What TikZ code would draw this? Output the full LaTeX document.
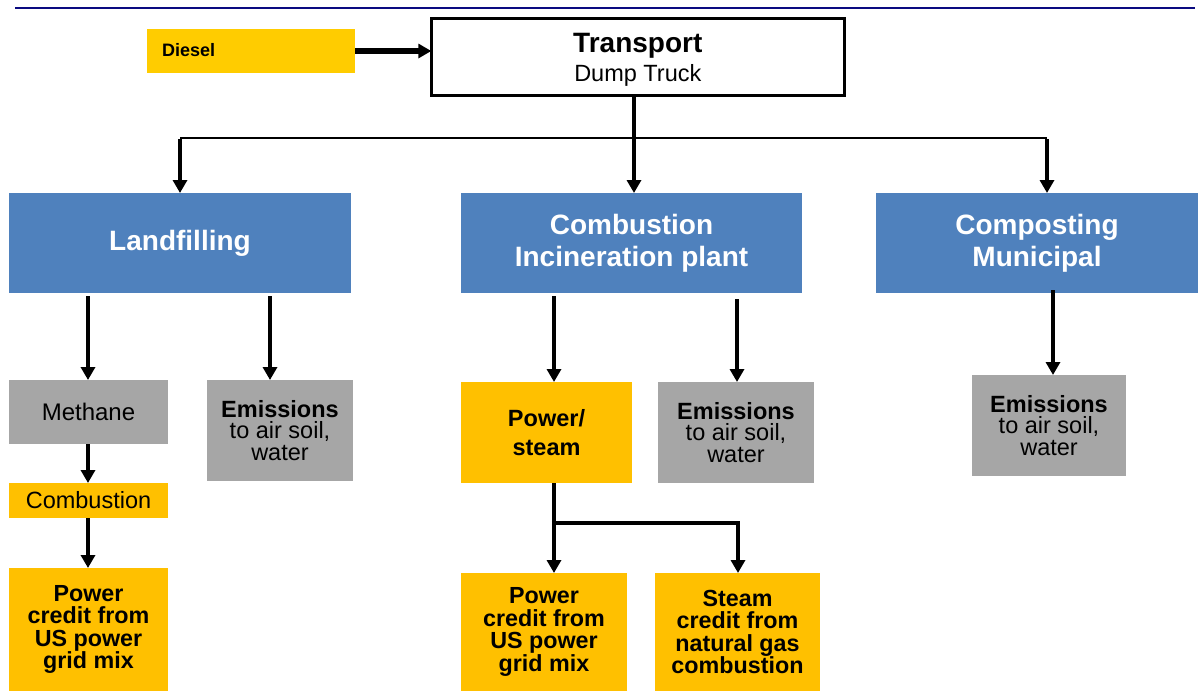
\documentclass[tikz,border=0pt]{standalone}
\usepackage{fontspec}
\setmainfont{Liberation Sans}
\usetikzlibrary{arrows.meta}
\definecolor{navyline}{HTML}{0A0A80}
\definecolor{bluebox}{HTML}{4F81BD}
\definecolor{dieselyel}{HTML}{FFCC00}
\definecolor{yelbox}{HTML}{FFC000}
\definecolor{graybox}{HTML}{A6A6A6}
\tikzset{
  base/.style={anchor=north west, inner sep=0pt, outer sep=0pt, align=center},
  bluestyle/.style={base, fill=bluebox, text=white, font=\fontsize{28}{32}\selectfont\bfseries},
  graystyle/.style={base, fill=graybox, font=\fontsize{23.5}{21.5}\selectfont},
  yelstyle/.style={base, fill=yelbox, font=\fontsize{23.3}{22.5}\selectfont\bfseries},
  tip/.style={-{Triangle[length=13pt,width=14pt]}},
  arr/.style={line width=4.8pt, tip},
  thinarr/.style={line width=3.6pt, tip},
}
\begin{document}
\begin{tikzpicture}[x=1pt,y=-1pt]
\useasboundingbox (0,0) rectangle (1198,691);
% top rule
\draw[navyline, line width=2pt] (15,8) -- (1195,8);
% Diesel
\node[base, fill=dieselyel, minimum width=208pt, minimum height=44pt] (diesel) at (147,29) {};
\node[anchor=west, inner sep=0pt, font=\fontsize{18}{18}\selectfont\bfseries] (dieseltxt) at (162,50) {Diesel};
% Transport
\node[base, draw=black, line width=2.7pt, fill=white, minimum width=413pt, minimum height=77pt] (trans) at (431.3,18.3) {};
\node[align=center, inner sep=0pt, font=\fontsize{23.5}{29}\selectfont] (transtxt) at ([yshift=-3.5pt]trans.center) {{\fontsize{28}{29}\selectfont\bfseries Transport}\\Dump Truck};
\draw[line width=5.5pt, tip] (diesel.east) -- (trans.west |- diesel.east);
% Blue boxes
\node[bluestyle, minimum width=342pt, minimum height=100pt] (land) at (9,193) {Landfilling};
\node[bluestyle, minimum width=341pt, minimum height=100pt] (comb) at (461,193) {Combustion\\Incineration plant};
\node[bluestyle, minimum width=322pt, minimum height=100pt] (comp) at (876,193) {Composting\\Municipal};
% transport connections
\coordinate (tc) at (634,96);
\draw[arr] (trans.south -| tc) -- (tc |- comb.north);
\coordinate (bl) at (180,138);
\coordinate (br) at (1047,138);
\draw[line width=2pt] (bl) -- (br);
\draw[thinarr] ([yshift=-1pt]bl) -- (bl |- land.north);
\draw[thinarr] ([yshift=-1pt]br) -- (br |- comp.north);
% Landfilling branch
\node[graystyle, minimum width=159pt, minimum height=64pt, font=\fontsize{24}{24}\selectfont] (meth) at (9,380) {Methane};
\node[graystyle, minimum width=146pt, minimum height=101pt] (em1) at (207,380) {\textbf{Emissions}\\to air soil,\\water};
\node[base, fill=yelbox, minimum width=159pt, minimum height=35pt, font=\fontsize{23.5}{23.5}\selectfont] (mcomb) at (9,483) {Combustion};
\node[yelstyle, minimum width=159pt, minimum height=123pt] (pc1) at (9,568) {Power\\credit from\\US power\\grid mix};
\coordinate (s1) at (88,296);
\coordinate (s2) at (270,296);
\draw[arr] (s1) -- (s1 |- meth.north);
\draw[arr] (s2) -- (s2 |- em1.north);
\draw[arr] (meth.south -| s1) -- (s1 |- mcomb.north);
\draw[arr] (mcomb.south -| s1) -- (s1 |- pc1.north);
% Combustion branch
\node[yelstyle, minimum width=171pt, minimum height=101pt, font=\fontsize{23.5}{29}\selectfont\bfseries] (ps) at (461,382) {Power/\\steam};
\node[graystyle, minimum width=156pt, minimum height=101pt] (em2) at (658,382) {\textbf{Emissions}\\to air soil,\\water};
\node[yelstyle, minimum width=166pt, minimum height=118pt] (pc2) at (461,573) {Power\\credit from\\US power\\grid mix};
\node[yelstyle, minimum width=165pt, minimum height=118pt] (sc) at (655,573) {Steam\\credit from\\natural gas\\combustion};
\coordinate (s3) at (554,296);
\coordinate (s4) at (737,299);
\draw[arr] (s3) -- (s3 |- ps.north);
\draw[arr] (s4) -- (s4 |- em2.north);
\coordinate (sp) at (554,523);
\coordinate (sq) at (738,523);
\draw[line width=4.2pt] (ps.south -| sp) -- (sp);
\draw[line width=4.2pt, tip] (sp) -- (sp |- pc2.north);
\draw[line width=4.2pt, tip] ([xshift=-2.1pt]sp) -- (sq) -- (sq |- sc.north);
% Composting branch
\node[graystyle, minimum width=154pt, minimum height=101pt] (em3) at (972,375) {\textbf{Emissions}\\to air soil,\\water};
\coordinate (s5) at (1053,290);
\draw[arr] (s5) -- (s5 |- em3.north);
\end{tikzpicture}
\end{document}
